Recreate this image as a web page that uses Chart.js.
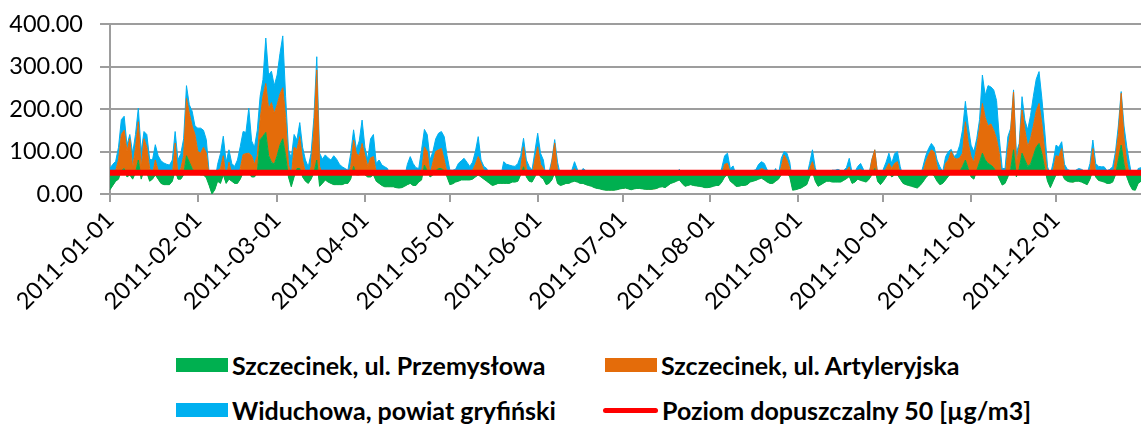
<!DOCTYPE html>
<html>
<head>
<meta charset="utf-8">
<script src="https://cdn.jsdelivr.net/npm/chart.js@4.4.1/dist/chart.umd.min.js"></script>
<style>
  html, body { margin: 0; padding: 0; background: #fff; overflow: hidden; }
  #wrap { position: relative; width: 1141px; height: 424px; }
  #chart { position: absolute; left: 0; top: 0; }
  .item { position: absolute; height: 28px; display: flex; align-items: center; font-family: Lato, sans-serif; font-weight: bold; font-size: 25px; color: #000; white-space: nowrap; }
  .sw { width: 52px; height: 14px; margin-right: 4px; }
  .ln { width: 55px; height: 5px; border-radius: 3px; margin-right: 4px; }
</style>
</head>
<body>
<div id="wrap">
  <canvas id="chart" width="1141" height="320"></canvas>
  <div id="legend"></div>
</div>
<script>
// series names and colours
const seriesNames = ["Szczecinek, ul. Przemysłowa", "Szczecinek, ul. Artyleryjska", "Widuchowa, powiat gryfiński"];
const limitName = "Poziom dopuszczalny 50 [µg/m3]";
const seriesColors = ["#00B050", "#E46C0A", "#00B0F0"];
const limitColor = "#FF0000";
const limitValue = 50;
const yTicks = [0, 100, 200, 300, 400];

// daily values, 2011-01-01 .. 2011-12-31
const przemyslowa = [
  10,20,30,35,55,60,40,45,35,50, 80,35,55,50,30,35,45,35,25,22,
  22,22,30,55,35,35,45,90,75,60, 50,48,45,45,38,20,0,10,30,25,
  45,25,35,30,25,25,35,50,50,50, 40,40,50,128,136,145,90,75,70,90,
  115,130,90,40,17,40,60,60,40,30, 25,35,50,80,18,25,33,28,25,22,
  22,22,22,25,25,35,65,45,45,53, 45,40,40,45,30,25,20,17,17,17,
  17,15,14,15,18,22,25,20,20,28, 33,68,55,40,45,55,60,60,55,40,
  22,24,28,30,33,33,33,33,35,40, 45,40,35,30,25,20,22,25,25,25,
  25,25,28,28,30,45,64,40,30,28, 40,53,40,35,22,25,33,50,25,20,
  22,25,25,28,30,28,25,25,22,20, 18,15,13,12,10,9,9,9,9,10,
  12,13,14,12,10,12,13,13,12,11, 11,11,12,13,16,17,15,20,25,27,
  30,33,25,18,20,22,20,19,18,17, 15,15,16,18,20,20,28,40,45,30,
  25,18,18,20,20,22,28,30,32,35, 37,33,28,25,25,30,35,45,53,50,
  40,9,10,12,14,18,22,40,53,30, 18,22,26,30,30,28,28,28,28,32,
  36,41,25,28,35,32,30,28,35,45, 60,30,22,30,40,50,40,45,45,35,
  25,22,20,18,16,14,20,28,38,45, 48,42,30,22,25,33,42,48,50,52,
  53,65,80,60,40,35,55,75,96,80, 72,68,62,50,35,21,25,40,60,104,
  40,60,96,80,65,70,90,110,119,95, 60,30,15,30,45,45,49,35,30,28,
  28,30,30,28,25,22,35,56,40,32, 30,28,25,25,28,45,80,115,70,40,
  22,10,9,25,30
];
const artyleryjska = [
  32,30,25,45,85,90,60,85,25,60, 90,25,75,60,30,10,35,20,10,8,
  6,6,10,65,10,25,45,135,115,100, 90,52,51,65,58,20,5,10,25,35,
  45,10,40,15,10,10,25,43,45,46, 50,30,40,47,94,115,110,140,120,120,
  120,120,90,30,24,70,45,75,40,20, 15,30,100,212,47,20,17,20,23,23,
  23,20,18,15,16,30,62,50,45,66, 45,25,45,43,20,15,18,16,13,5,
  5,3,1,3,4,13,16,2,5,7, 17,43,45,5,30,45,44,47,25,10,
  3,4,2,5,5,8,5,2,20,30, 43,32,20,15,5,2,8,10,5,15,
  17,13,12,13,15,15,47,20,15,14, 40,58,30,25,10,15,42,70,30,5,
  8,8,8,12,30,12,12,15,13,10, 7,5,4,1,2,1,1,1,1,1,
  1,1,1,1,2,1,1,2,2,1, 0,0,0,0,6,11,5,5,5,6,
  8,12,5,2,5,8,8,6,4,3, 0,2,2,4,5,8,17,30,27,20,
  15,7,2,10,10,8,12,15,13,20, 23,24,14,13,8,5,3,19,39,30,
  20,10,10,12,11,10,13,20,23,20, 12,11,12,12,15,10,10,12,14,16,
  19,23,10,14,20,26,18,5,10,35, 44,15,8,15,20,22,20,27,31,10,
  5,11,15,10,9,4,8,22,37,47, 56,56,35,13,5,39,38,52,35,30,
  32,31,90,60,48,40,55,80,117,100, 88,97,88,80,60,4,10,65,90,136,
  32,50,102,71,46,60,70,85,94,70, 40,15,5,25,45,43,58,20,8,2,
  0,2,3,12,13,6,20,51,10,13, 10,12,10,8,5,40,60,122,60,35,
  18,15,4,15,15
];
const widuchowa = [
  19,20,22,30,35,33,15,10,36,30, 32,40,17,30,22,35,36,35,43,43,
  42,40,40,27,35,35,40,30,20,35, 20,55,59,40,32,10,13,8,15,35,
  46,40,29,27,30,45,52,54,50,106, 35,40,60,55,39,107,80,74,65,70,
  95,122,50,35,43,30,22,33,30,30, 24,31,30,31,31,37,42,37,32,45,
  37,28,24,20,15,31,24,10,35,55, 20,17,45,52,22,40,30,31,30,18,
  23,27,18,20,18,35,47,50,37,25, 54,41,40,35,25,30,39,40,55,40,
  31,28,28,37,40,43,37,30,20,30, 47,8,10,15,15,18,15,10,12,36,
  28,30,26,24,27,30,20,20,20,14, 20,32,26,20,3,10,5,8,20,20,
  12,8,8,15,16,18,13,20,20,25, 15,10,11,17,13,4,4,3,4,5,
  17,24,26,15,4,5,13,10,8,4, 3,3,2,3,13,13,8,7,7,8,
  10,13,10,10,8,7,7,8,8,8, 3,3,7,8,8,9,17,20,24,10,
  26,20,21,15,12,12,12,10,12,15, 16,15,15,14,15,25,7,20,8,16,
  15,6,8,8,8,9,7,12,28,12, 11,8,7,3,7,18,18,18,13,7,
  7,20,15,10,10,14,10,12,3,2, 0,3,8,13,15,24,12,23,24,19,
  11,12,13,9,8,8,12,14,15,15, 15,12,15,29,22,16,20,5,3,13,
  30,55,48,40,27,25,20,20,67,52, 95,87,95,90,35,35,25,30,5,5,
  24,9,31,23,40,55,70,75,75,60, 50,19,25,20,25,22,16,15,20,25,
  24,24,27,18,16,20,17,20,22,20, 24,24,20,25,31,15,20,4,30,35,
  30,8,22,20,17
];

// categories: every day of 2011
const days = [];
for (let t = Date.UTC(2011, 0, 1); t <= Date.UTC(2011, 11, 31); t += 86400000) {
  days.push(new Date(t).toISOString().slice(0, 10));
}

const gridColor = "#9d9d9d";
const canvasHeight = 320;
const plotBottom = 194;
const axisFont = { family: "Lato", size: 23.5 };

function areaSet(i, data) {
  return {
    label: seriesNames[i],
    data: data,
    stack: "stations",
    fill: "stack",
    backgroundColor: seriesColors[i],
    borderColor: seriesColors[i],
    borderWidth: 1,
    pointRadius: 0,
    tension: 0
  };
}

new Chart(document.getElementById("chart"), {
  type: "line",
  data: {
    labels: days,
    datasets: [
      {
        label: limitName,
        data: days.map(() => limitValue),
        stack: "limit",
        fill: false,
        borderColor: limitColor,
        borderWidth: 6,
        pointRadius: 0
      },
      areaSet(0, przemyslowa),
      areaSet(1, artyleryjska),
      areaSet(2, widuchowa)
    ]
  },
  options: {
    responsive: false,
    animation: false,
    layout: { padding: { top: 24, right: 0, left: 0, bottom: 0 } },
    plugins: { legend: { display: false }, tooltip: { enabled: false } },
    scales: {
      x: {
        offset: false,
        grid: {
          drawOnChartArea: false,
          drawTicks: true,
          tickLength: 8,
          lineWidth: 2,
          color: c => (c.tick && c.tick.label) ? gridColor : "rgba(0,0,0,0)"
        },
        border: { color: gridColor, width: 2 },
        ticks: {
          autoSkip: false,
          minRotation: 45,
          maxRotation: 45,
          padding: 4,
          color: "#000",
          font: axisFont,
          callback: (v, i) => days[i].endsWith("-01") ? days[i] : ""
        },
        afterFit: s => {
          s.height = canvasHeight - plotBottom;
          s.paddingLeft = 0;
          s.paddingRight = 0;
        }
      },
      y: {
        stacked: true,
        min: yTicks[0],
        max: yTicks[yTicks.length - 1],
        afterBuildTicks: s => { s.ticks = yTicks.map(v => ({ value: v })); },
        grid: { color: gridColor, lineWidth: 2, tickLength: 10 },
        border: { color: gridColor, width: 2 },
        ticks: {
          padding: 17,
          color: "#000",
          font: axisFont,
          callback: v => v.toFixed(2)
        },
        afterFit: s => {
          s.width = 110;
          s.paddingTop = 0;
          s.paddingBottom = 0;
        }
      }
    }
  }
});

// legend (two rows, two columns like the original)
const legendItems = [
  { text: seriesNames[0], color: seriesColors[0], left: 176, top: 351, line: false },
  { text: seriesNames[1], color: seriesColors[1], left: 605, top: 351, line: false },
  { text: seriesNames[2], color: seriesColors[2], left: 176, top: 396, line: false },
  { text: limitName, color: limitColor, left: 603, top: 396, line: true }
];
const legend = document.getElementById("legend");
legendItems.forEach(it => {
  legend.innerHTML += `
    <div class="item" style="left:${it.left}px;top:${it.top}px">
      <span class="${it.line ? "ln" : "sw"}" style="background:${it.color}"></span>${it.text}
    </div>`;
});
</script>
</body>
</html>
